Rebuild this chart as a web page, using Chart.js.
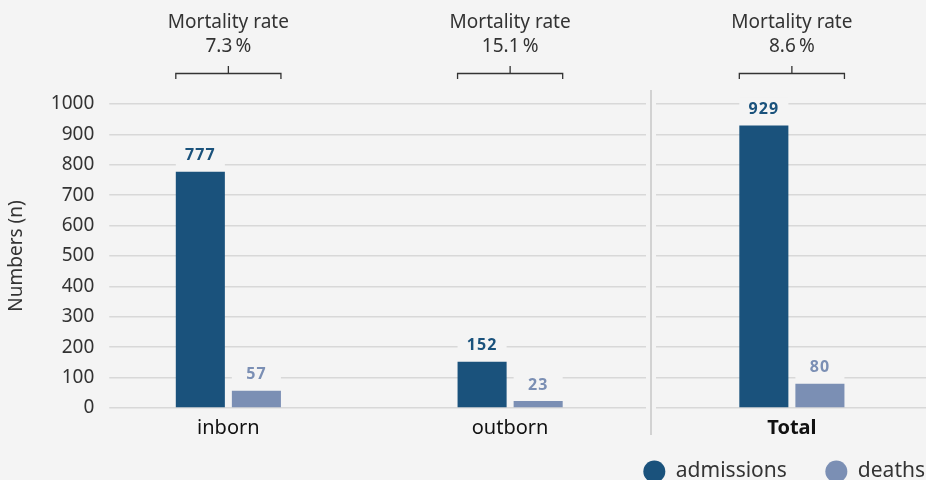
<!DOCTYPE html>
<html>
<head>
<meta charset="utf-8">
<script src="https://cdn.jsdelivr.net/npm/chart.js@4.4.1/dist/chart.umd.min.js"></script>
<style>
html, body { margin: 0; padding: 0; background: #f4f4f4; overflow: hidden; }
#wrap { width: 946px; height: 480px; }
</style>
</head>
<body>
<div id="wrap"><canvas id="chart"></canvas></div>
<script>
const categories = ["inborn", "outborn", "Total"];
const admissions = [777, 152, 929];
const deaths = [57, 23, 80];
const mortalityRates = ["7.3", "15.1", "8.6"];
const yTicks = [0, 100, 200, 300, 400, 500, 600, 700, 800, 900, 1000];

const bg = "#f4f4f4";
const dark = "#1a527c";
const light = "#7b8fb4";
const textCol = "#333333";
const font = "'Noto Sans', sans-serif";

// labels over the bars, with a patch that cuts the grid lines
const valueLabels = {
    id: "valueLabels",
    afterDatasetsDraw(chart) {
        const ctx = chart.ctx;
        ctx.save();
        ctx.font = "bold 16px " + font;
        ctx.letterSpacing = "1px";
        ctx.textAlign = "center";
        ctx.textBaseline = "middle";
        chart.data.datasets.forEach((ds, di) => {
            chart.getDatasetMeta(di).data.forEach((bar, i) => {
                ctx.fillStyle = bg;
                ctx.fillRect(bar.x - bar.width / 2, bar.y - 28, bar.width, 25);
                ctx.fillStyle = ds.backgroundColor;
                ctx.fillText(ds.data[i].y, bar.x, bar.y - 16);
            });
        });
        ctx.restore();
    }
};

// vertical line between groups and Total
const separator = {
    id: "separator",
    beforeDatasetsDraw(chart) {
        const ctx = chart.ctx;
        const x = chart.scales.x.getPixelForValue(1.5);
        ctx.save();
        ctx.fillStyle = bg;
        ctx.fillRect(x - 5, chart.chartArea.top - 3, 10, chart.chartArea.bottom - chart.chartArea.top + 6);
        ctx.strokeStyle = "#d2d2d2";
        ctx.lineWidth = 2;
        ctx.beginPath();
        ctx.moveTo(x, 90);
        ctx.lineTo(x, 435);
        ctx.stroke();
        ctx.restore();
    }
};

// mortality rate text and brackets on top
const mortality = {
    id: "mortality",
    afterDraw(chart) {
        const ctx = chart.ctx;
        const m0 = chart.getDatasetMeta(0).data;
        const m1 = chart.getDatasetMeta(1).data;
        ctx.save();
        ctx.fillStyle = textCol;
        ctx.strokeStyle = textCol;
        ctx.lineWidth = 1.3;
        ctx.textAlign = "center";
        ctx.textBaseline = "middle";
        ctx.font = "19px " + font;
        categories.forEach((c, i) => {
            const cx = chart.scales.x.getPixelForValue(i);
            const l = m0[i].x - m0[i].width / 2;
            const r = m1[i].x + m1[i].width / 2;
            ctx.fillText("Mortality rate", cx, 23);
            ctx.fillText(mortalityRates[i] + "\u2009%", cx, 47);
            ctx.beginPath();
            ctx.moveTo(l, 79);
            ctx.lineTo(l, 73.5);
            ctx.lineTo(r, 73.5);
            ctx.lineTo(r, 79);
            ctx.moveTo(cx, 73.5);
            ctx.lineTo(cx, 66);
            ctx.stroke();
        });
        ctx.restore();
    }
};

new Chart(document.getElementById("chart"), {
    type: "bar",
    data: {
        datasets: [
            {
                label: "admissions",
                data: admissions.map((v, i) => ({ x: i, y: v })),
                backgroundColor: dark
            },
            {
                label: "deaths",
                data: deaths.map((v, i) => ({ x: i, y: v })),
                backgroundColor: light
            }
        ]
    },
    options: {
        responsive: true,
        maintainAspectRatio: false,
        animation: false,
        categoryPercentage: 0.398,
        barPercentage: 0.875,
        layout: { padding: { top: 104, left: 5, right: 0, bottom: -12 } },
        plugins: {
            tooltip: { enabled: false },
            legend: {
                position: "bottom",
                align: "end",
                labels: {
                    usePointStyle: true,
                    pointStyle: "circle",
                    boxHeight: 15.5,
                    pointStyleWidth: 22,
                    padding: 21,
                    color: textCol,
                    font: { family: font, size: 21 },
                    generateLabels: chart => {
                        const items = Chart.defaults.plugins.legend.labels.generateLabels(chart);
                        items.forEach((it, i) => {
                            if (i < items.length - 1) it.text += "\u2002\u2004";
                        });
                        return items;
                    }
                }
            }
        },
        scales: {
            x: {
                type: "linear",
                min: -0.3872,
                max: 2.547,
                offset: false,
                afterBuildTicks: axis => {
                    axis.ticks = categories.map((c, i) => ({ value: i }));
                },
                grid: { display: false },
                border: { display: false },
                ticks: {
                    color: "#111",
                    padding: 0,
                    autoSkip: false,
                    maxRotation: 0,
                    callback: v => categories[v],
                    font: ctx => ({
                        family: font,
                        size: 20,
                        weight: ctx.index === categories.length - 1 ? "bold" : "normal"
                    })
                }
            },
            y: {
                min: 0,
                max: 1000,
                afterBuildTicks: axis => {
                    axis.ticks = yTicks.map(v => ({ value: v }));
                },
                grid: { color: "#d8d8d8", lineWidth: 1.5, tickLength: 10 },
                border: { display: false },
                ticks: {
                    color: textCol,
                    padding: 15,
                    callback: v => String(v),
                    font: { family: font, size: 19 }
                },
                title: {
                    display: true,
                    text: "Numbers (n)",
                    color: textCol,
                    padding: { top: 0, bottom: 8 },
                    font: { family: font, size: 19 }
                }
            }
        }
    },
    plugins: [separator, valueLabels, mortality]
});
</script>
</body>
</html>
